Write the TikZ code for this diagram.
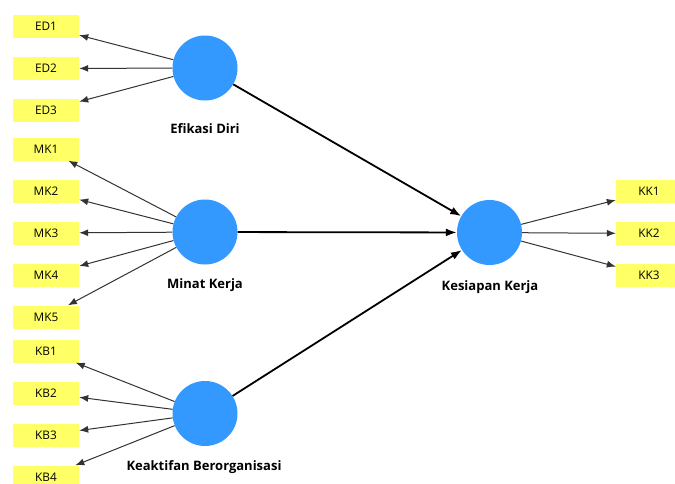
\documentclass[tikz,border=0pt]{standalone}
\usepackage{fontspec}
\setmainfont{Open Sans}
\usetikzlibrary{arrows.meta}
\definecolor{lvblue}{HTML}{3399FF}
\definecolor{indyel}{HTML}{FFFF66}
\tikzset{
  ind/.style={fill=indyel, draw=none, minimum width=66pt, minimum height=23pt, inner sep=0pt, font=\fontsize{11.8}{13}\selectfont},
  lv/.style={circle, fill=lvblue, draw=none, minimum size=65pt, inner sep=0pt},
  lvlab/.style={font=\fontsize{13}{15}\selectfont\bfseries, inner sep=0pt},
  load/.style={-{Latex[length=9pt,width=7pt]}, line width=1pt, draw=black!80},
  path/.style={-{Latex[length=11pt,width=8pt]}, line width=1.8pt, draw=black}
}
\begin{document}
\begin{tikzpicture}[x=1pt,y=-1pt]
\useasboundingbox (0,0) rectangle (675,483);
% indicators
\node[ind] (ED1) at (46,26.5) {ED1};
\node[ind] (ED2) at (46,68.5) {ED2};
\node[ind] (ED3) at (46,110.5) {ED3};
\node[ind] (MK1) at (46,149) {MK1};
\node[ind] (MK2) at (46,191) {MK2};
\node[ind] (MK3) at (46,233) {MK3};
\node[ind] (MK4) at (46,275) {MK4};
\node[ind] (MK5) at (46,317) {MK5};
\node[ind] (KB1) at (46,351) {KB1};
\node[ind] (KB2) at (46,393) {KB2};
\node[ind] (KB3) at (46,435) {KB3};
\node[ind] (KB4) at (46,477) {KB4};
\node[ind] (KK1) at (649,191.5) {KK1};
\node[ind] (KK2) at (649,233.5) {KK2};
\node[ind] (KK3) at (649,275.5) {KK3};
% latent variables
\node[lv] (ED) at (205,68) {};
\node[lv] (MK) at (205,232) {};
\node[lv] (KB) at (205,413.5) {};
\node[lv] (KK) at (489.5,232.5) {};
\node[lvlab] (EDl) at (205,128.5) {Efikasi Diri};
\node[lvlab] (MKl) at (205,285.5) {Minat Kerja};
\node[lvlab] (KBl) at (204,467) {Keaktifan Berorganisasi};
\node[lvlab] (KKl) at (490,287) {Kesiapan Kerja};
% loadings
\foreach \i in {ED1,ED2,ED3} \draw[load] (ED) -- (\i);
\foreach \i in {MK1,MK2,MK3,MK4,MK5} \draw[load] (MK) -- (\i);
\foreach \i in {KB1,KB2,KB3,KB4} \draw[load] (KB) -- (\i);
\foreach \i in {KK1,KK2,KK3} \draw[load] (KK) -- (\i);
% paths
\draw[path] (ED) -- (KK);
\draw[path] (MK) -- (KK);
\draw[path] (KB) -- (KK);
\end{tikzpicture}
\end{document}
